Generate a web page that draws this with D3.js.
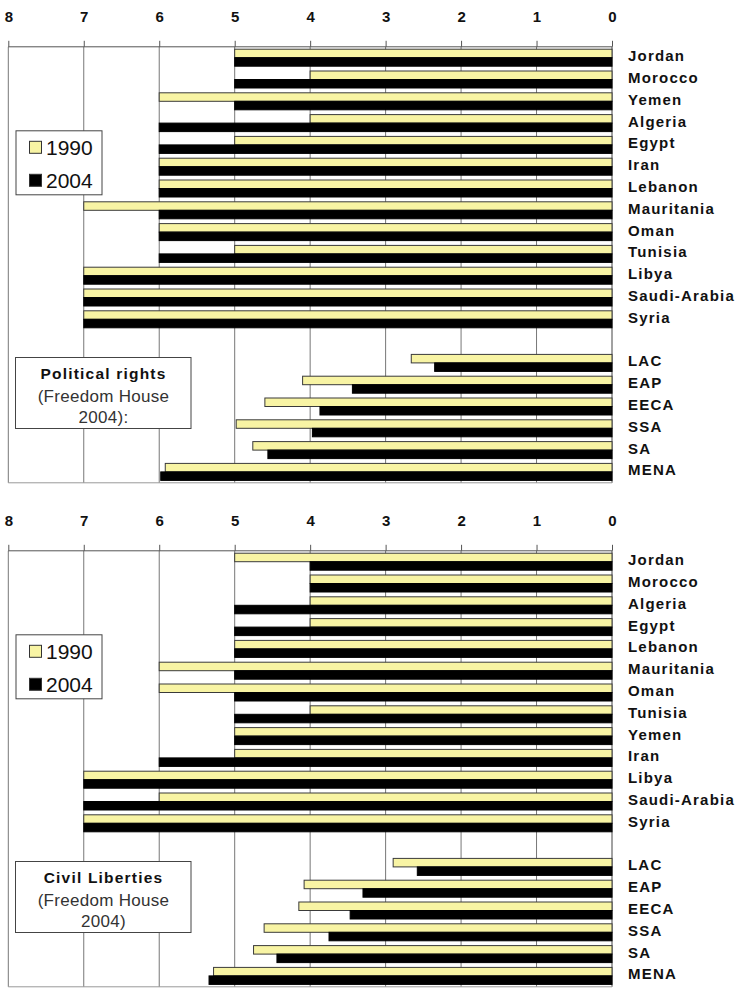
<!DOCTYPE html>
<html>
<head>
<meta charset="utf-8">
<script src="https://cdn.jsdelivr.net/npm/d3@7"></script>
<style>
  html, body { margin: 0; padding: 0; background: #fff; }
  svg { display: block; font-family: "Liberation Sans", Arial, sans-serif; }
</style>
</head>
<body>
<svg id="chart" width="738" height="989"></svg>
<script>
// ---- Data ----
const xTicks = [8, 7, 6, 5, 4, 3, 2, 1, 0];
const seriesNames = ["1990", "2004"];
const regions = ["LAC", "EAP", "EECA", "SSA", "SA", "MENA"];

// Panel 1: Political rights
const prCountries = ["Jordan", "Morocco", "Yemen", "Algeria", "Egypt", "Iran", "Lebanon",
  "Mauritania", "Oman", "Tunisia", "Libya", "Saudi-Arabia", "Syria"];
const pr1990 = [5, 4, 6, 4, 5, 6, 6, 7, 6, 5, 7, 7, 7];
const pr2004 = [5, 5, 5, 6, 6, 6, 6, 6, 6, 6, 7, 7, 7];
const prReg1990 = [2.66, 4.1, 4.6, 4.98, 4.76, 5.92];
const prReg2004 = [2.35, 3.44, 3.87, 3.97, 4.56, 5.98];
const prTitle = ["Political rights", "(Freedom House", "2004):"];

// Panel 2: Civil liberties
const clCountries = ["Jordan", "Morocco", "Algeria", "Egypt", "Lebanon", "Mauritania", "Oman",
  "Tunisia", "Yemen", "Iran", "Libya", "Saudi-Arabia", "Syria"];
const cl1990 = [5, 4, 4, 4, 5, 6, 6, 4, 5, 5, 7, 6, 7];
const cl2004 = [4, 4, 5, 5, 5, 5, 5, 5, 5, 6, 7, 7, 7];
const clReg1990 = [2.9, 4.08, 4.15, 4.61, 4.75, 5.28];
const clReg2004 = [2.58, 3.3, 3.47, 3.75, 4.44, 5.34];
const clTitle = ["Civil Liberties", "(Freedom House", "2004)"];

// ---- Drawing ----
const colors = { "1990": "#f8f4a4", "2004": "#000000" };
const svg = d3.select("#chart");
const x = d3.scaleLinear().domain([8, 0]).range([8.3, 612]);

function drawPanel(top, countries, v1990, v2004, r1990, r2004, title) {
  const cats = countries.concat([" "], regions);
  const vals1990 = v1990.concat([null], r1990);
  const vals2004 = v2004.concat([null], r2004);
  const rows = cats.map((c, i) => ({ cat: c, "1990": vals1990[i], "2004": vals2004[i] }));

  const y = d3.scaleBand().domain(cats).range([top, top + 436]).paddingInner(0).paddingOuter(0);
  const ySub = d3.scaleBand().domain(seriesNames).range([2.4, 19.4]);
  const bottom = top + 436;

  const g = svg.append("g");

  // vertical grid lines
  g.append("g").selectAll("line").data(xTicks).join("line")
    .attr("x1", d => x(d)).attr("x2", d => x(d))
    .attr("y1", top).attr("y2", bottom)
    .attr("stroke", d => d === 0 ? "#444" : "#777").attr("stroke-width", 1);
  // bottom border
  g.append("line").attr("x1", x(8)).attr("x2", x(0)).attr("y1", bottom).attr("y2", bottom)
    .attr("stroke", "#999").attr("stroke-width", 1);

  // axis
  const axis = d3.axisTop(x).tickValues(xTicks).tickSize(6).tickPadding(18.5).tickFormat(d3.format("d"));
  const ag = g.append("g").attr("transform", `translate(0,${top})`).call(axis);
  ag.select(".domain").attr("stroke", "#555").attr("d", `M${x(8)},0H${x(0)}`);
  ag.selectAll(".tick line").attr("stroke", "#555");
  ag.selectAll(".tick text").attr("font-size", 15).attr("font-weight", "bold")
    .attr("fill", "#111").attr("font-family", "\"Liberation Sans\", Arial, sans-serif");

  // bars
  seriesNames.forEach(s => {
    g.append("g").selectAll("rect").data(rows.filter(r => r[s] != null)).join("rect")
      .attr("x", d => x(d[s]))
      .attr("y", d => y(d.cat) + ySub(s))
      .attr("width", d => x(0) - x(d[s]))
      .attr("height", ySub.bandwidth())
      .attr("fill", colors[s])
      .attr("stroke", s === "1990" ? "#3a3a3a" : "#000")
      .attr("stroke-width", 1);
  });

  // category labels
  g.append("g").selectAll("text").data(cats).join("text")
    .attr("x", 628)
    .attr("y", d => y(d) + y.bandwidth() / 2 + 3.4)
    .attr("font-size", 15).attr("font-weight", "bold").attr("letter-spacing", 1.2)
    .attr("fill", "#111")
    .text(d => d.trim());

  // legend
  const lg = g.append("g").attr("transform", `translate(16,${top + 84})`);
  lg.append("rect").attr("width", 86).attr("height", 64).attr("fill", "#fff")
    .attr("stroke", "#444").attr("stroke-width", 1);
  seriesNames.forEach((s, i) => {
    const cy = 16.5 + i * 33;
    lg.append("rect").attr("x", 13.5).attr("y", cy - 6).attr("width", 12).attr("height", 12)
      .attr("fill", colors[s]).attr("stroke", "#333").attr("stroke-width", 1);
    lg.append("text").attr("x", 30).attr("y", cy + 7.5).attr("font-size", 21)
      .attr("fill", "#111").text(s);
  });

  // title box
  const tb = g.append("g").attr("transform", `translate(15.5,${top + 310.7})`);
  tb.append("rect").attr("width", 175.5).attr("height", 71).attr("fill", "#fff")
    .attr("stroke", "#444").attr("stroke-width", 1);
  title.forEach((t, i) => {
    tb.append("text").attr("x", 88).attr("y", [21.5, 44, 65.5][i])
      .attr("text-anchor", "middle")
      .attr("font-size", i === 0 ? 15.5 : 17)
      .attr("font-weight", i === 0 ? "bold" : "normal")
      .attr("letter-spacing", i === 0 ? 1.2 : 0.3)
      .attr("fill", i === 0 ? "#111" : "#333")
      .text(t);
  });
}

drawPanel(46.8, prCountries, pr1990, pr2004, prReg1990, prReg2004, prTitle);
drawPanel(550.8, clCountries, cl1990, cl2004, clReg1990, clReg2004, clTitle);
</script>
</body>
</html>
